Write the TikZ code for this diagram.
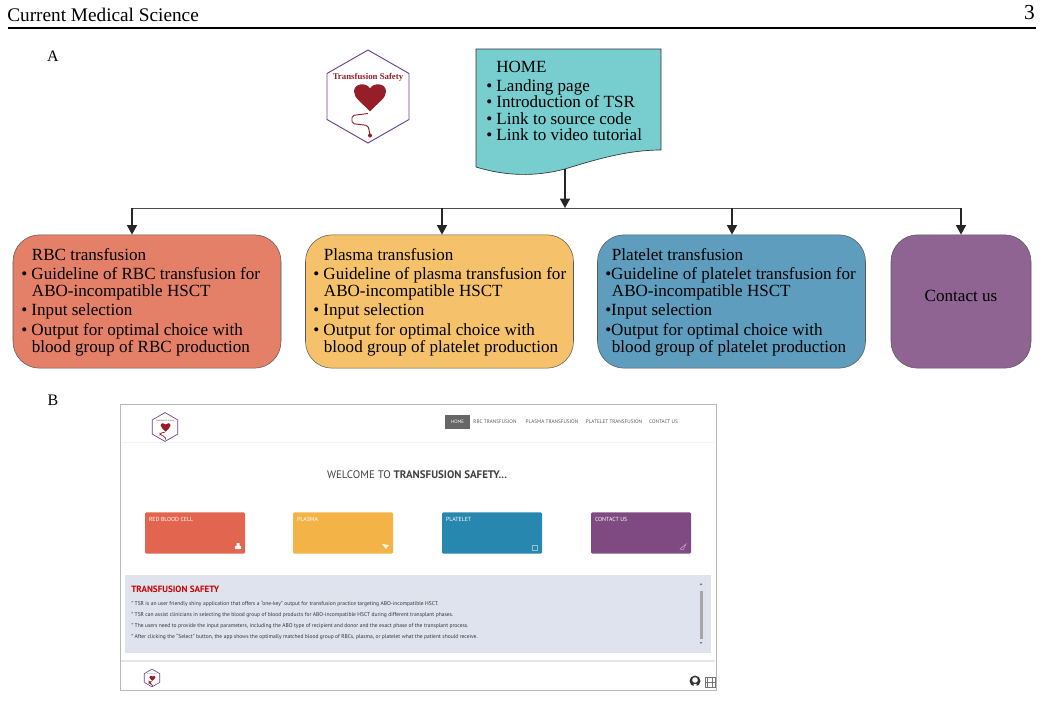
\documentclass[tikz,border=0pt]{standalone}
\usepackage{fontspec}
\setmainfont{Liberation Serif}
\setsansfont{PT Sans}
\usetikzlibrary{arrows.meta,positioning,calc}
\definecolor{tshome}{RGB}{120,205,207}
\definecolor{tsred}{RGB}{228,127,104}
\definecolor{tsorange}{RGB}{245,194,107}
\definecolor{tsblue}{RGB}{94,157,190}
\definecolor{tspurple}{RGB}{143,100,146}
\definecolor{cardred}{RGB}{225,101,79}
\definecolor{cardorange}{RGB}{243,179,71}
\definecolor{cardblue}{RGB}{40,135,174}
\definecolor{cardpurple}{RGB}{127,74,130}
\definecolor{hexpurple}{RGB}{107,63,143}
\definecolor{heartred}{RGB}{150,30,40}
\definecolor{panelblue}{RGB}{223,227,238}
\newcommand{\tslogo}[4]{%
  \begin{scope}[shift={(#1)},scale=#2]
    \draw[hexpurple,line width=#3] (0,-46.5) -- (41,-23) -- (41,23) -- (0,46.5) -- (-41,23) -- (-41,-23) -- cycle;
    \draw[heartred,line width=#3,rounded corners=1.5pt] (0,17) -- (-16,19) -- (-16,27) -- (0,29) -- (2,38);
    \fill[heartred] (2,15) .. controls (-6,6) and (-14,2) .. (-14,-5) .. controls (-14,-14) and (-1,-14) .. (2,-8)
      .. controls (5,-14) and (18,-14) .. (18,-5) .. controls (18,2) and (10,6) .. (2,15) -- cycle;
    \fill[heartred] (2,39) circle (2);
    \node[heartred,font=#4] (logotext) at (0,-19.5) {Transfusion Safety};
  \end{scope}}
\begin{document}
\begin{tikzpicture}[x=0.75pt,y=-0.75pt,
  flowbox/.style={draw=black!65,rounded corners=20pt,minimum height=100pt,line width=0.4pt},
  boxtext/.style={anchor=north west,align=left,inner sep=0pt,font=\fontsize{12.8}{12.4}\selectfont},
  arr/.style={-{Triangle[length=7pt,width=7.5pt]},line width=0.9pt,black!85},
  bus/.style={line width=0.7pt,black!70},
  card/.style={rounded corners=1pt,minimum width=75pt,minimum height=31pt},
  cardtext/.style={white,font=\sffamily\fontsize{4.4}{5}\selectfont,anchor=west,inner sep=0pt},
  navtext/.style={black!65,font=\sffamily\fontsize{3.9}{4}\selectfont,inner sep=0pt},
  infotext/.style={black!80,font=\sffamily\fontsize{4.15}{4}\selectfont,anchor=west,inner sep=0pt}
]
  \useasboundingbox (0,0) rectangle (1064,700);

  % Page header
  \node[anchor=west,inner sep=0pt,font=\fontsize{14.45}{16}\selectfont] (journal) at (7,15) {Current Medical Science};
  \node[anchor=east,inner sep=0pt,font=\fontsize{16}{16}\selectfont] (pageno) at (1035,13) {3};
  \draw[line width=1pt] (8,28) coordinate (ruleL) -- (1036,28) coordinate (ruleR);
  \node[font=\fontsize{12}{12}\selectfont] (labelA) at (53,56) {A};
  \node[font=\fontsize{12}{12}\selectfont] (labelB) at (53,400) {B};

  % Logo
  \tslogo{368,96.5}{1}{0.7pt}{\bfseries\fontsize{6.6}{7}\selectfont}

  % Home
  \draw[draw=black!80,fill=tshome,line width=0.5pt] (476,49) -- (661,49) -- (661,150)
    .. controls (630,150) and (600,158) .. (565,169) coordinate (homeout)
    .. controls (535,177) and (505,176) .. (476,167) -- cycle;
  \node[boxtext] (hometext) at (486,60.5) {\hspace{7.5pt}HOME\\[2pt]
    • Landing page\\• Introduction of TSR\\• Link to source code\\• Link to video tutorial};

  % Boxes
  \node[flowbox,fill=tsred,minimum width=201pt] (rbc) at (147,301.5) {};
  \node[boxtext] (rbctext) at (21,248) {\hspace{8pt}RBC transfusion\\[2pt]
    • Guideline of RBC transfusion for\\\hspace{8pt}ABO-incompatible HSCT\\[2.5pt]
    • Input selection\\[2.5pt]
    • Output for optimal choice with\\\hspace{8pt}blood group of RBC production};

  \node[flowbox,fill=tsorange,minimum width=201pt] (plasma) at (439.5,301.5) {};
  \node[boxtext] (plasmatext) at (313,248) {\hspace{8pt}Plasma transfusion\\[2pt]
    • Guideline of plasma transfusion for\\\hspace{8pt}ABO-incompatible HSCT\\[2.5pt]
    • Input selection\\[2.5pt]
    • Output for optimal choice with\\\hspace{8pt}blood group of platelet production};

  \node[flowbox,fill=tsblue,minimum width=201pt] (platelet) at (731.5,301.5) {};
  \node[boxtext] (platelettext) at (605,248) {\hspace{5pt}Platelet transfusion\\[2pt]
    •Guideline of platelet transfusion for\\\hspace{5pt}ABO-incompatible HSCT\\[2.5pt]
    •Input selection\\[2.5pt]
    •Output for optimal choice with\\\hspace{5pt}blood group of platelet production};

  \node[flowbox,fill=tspurple,minimum width=105pt] (contact) at (961,301.5) {};
  \node[inner sep=0pt,font=\fontsize{12.8}{12.4}\selectfont] (contacttext) at (961,296) {Contact us};

  % Arrows
  \coordinate (busA) at (132,208);
  \coordinate (busB) at (442,208);
  \coordinate (busC) at (565,208);
  \coordinate (busD) at (732,208);
  \coordinate (busE) at (961,208);
  \draw[bus] (busA) -- (busE);
  \draw[arr] (homeout) -- (busC);
  \draw[arr] (busA) -- (busA |- rbc.north);
  \draw[arr] (busB) -- (busB |- plasma.north);
  \draw[arr] (busD) -- (busD |- platelet.north);
  \draw[arr] (busE) -- (contact.north);

  % Screenshot
  \draw[black!28,line width=0.6pt] (120,404.5) rectangle (716,690);
  \tslogo{165,427}{0.31}{0.5pt}{\fontsize{1.8}{2}\selectfont}
  \draw[black!5] (122,442) -- (714,442);
  \node[fill=black!60,minimum width=18.5pt,minimum height=10pt,inner sep=0pt,text=white,font=\sffamily\fontsize{3.6}{4}\selectfont] (navhome) at (457.5,422) {HOME};
  \node[navtext] (navrbc) at (495,422) {RBC TRANSFUSION};
  \node[navtext] (navplasma) at (552,422) {PLASMA TRANSFUSION};
  \node[navtext] (navplatelet) at (614,422) {PLATELET TRANSFUSION};
  \node[navtext] (navcontact) at (663.5,422) {CONTACT US};
  \node[black!75,inner sep=0pt,font=\sffamily\fontsize{8.2}{9}\selectfont] (welcome) at (417,475) {WELCOME TO \textbf{TRANSFUSION SAFETY...}};

  \node[card,fill=cardred] (cardrbc) at (195,533) {};
  \node[cardtext] (cardrbctext) at ([xshift=3pt]cardrbc.west |- 0,519) {RED BLOOD CELL};
  \fill[white] (235,549) rectangle (241,546) (236.5,546) rectangle (239.5,543);
  \node[card,fill=cardorange] (cardplasma) at (343,533) {};
  \node[cardtext] (cardplasmatext) at ([xshift=3pt]cardplasma.west |- 0,519) {PLASMA};
  \fill[white!85!cardorange] (382,544) -- (389,545) -- (386,549) -- cycle;
  \node[card,fill=cardblue] (cardplatelet) at (492,533) {};
  \node[cardtext] (cardplatelettext) at ([xshift=3pt]cardplatelet.west |- 0,519) {PLATELET};
  \draw[white!50!cardblue,line width=0.3pt] (532,545) rectangle (537,550);
  \node[card,fill=cardpurple] (cardcontact) at (641,533) {};
  \node[cardtext] (cardcontacttext) at ([xshift=3pt]cardcontact.west |- 0,519) {CONTACT US};
  \draw[white!50!cardpurple,line width=0.4pt] (680,549) -- (686,544) -- (683,550) -- cycle;

  % Info panel
  \node[fill=panelblue,minimum width=439.5pt,minimum height=58.5pt,inner sep=0pt] (panel) at (418,614) {};
  \node[anchor=west,inner sep=0pt,red!80!black,font=\sffamily\bfseries\fontsize{6.8}{7}\selectfont] (paneltitle) at (131,589) {TRANSFUSION SAFETY};
  \node[infotext] (lineA) at (131,604) {* TSR is an user friendly shiny application that offers a ``one-key'' output for transfusion practice targeting ABO-incompatible HSCT.};
  \node[infotext] (lineB) at (131,615) {* TSR can assist clinicians in selecting the blood group of blood products for ABO-incompatible HSCT during different transplant phases.};
  \node[infotext] (lineC) at (131,626) {* The users need to provide the input parameters, including the ABO type of recipient and donor and the exact phase of the transplant process.};
  \node[infotext] (lineD) at (131,637) {* After clicking the ``Select'' button, the app shows the optimally matched blood group of RBCs, plasma, or platelet what the patient should receive.};
  \fill[black!35] (699.5,591) rectangle (702.5,639);
  \fill[black!50] (699.5,585) -- (702.5,585) -- (701,583) -- cycle;
  \fill[black!50] (699.5,642) -- (702.5,642) -- (701,644) -- cycle;

  % Footer
  \draw[black!10,line width=0.8pt] (121,661) -- (715,661);
  \tslogo{152,678}{0.19}{0.45pt}{\fontsize{1}{1}\selectfont}
  \fill[black!80] (695,681) circle (5.5);
  \fill[white] (695,680) circle (2.8) (693.5,684) rectangle (696.5,687);
  \draw[black!55,line width=0.5pt] (705,677) rectangle (715,687) (707.5,677) -- (707.5,687) (712.5,677) -- (712.5,687) (705,682) -- (715,682);
\end{tikzpicture}
\end{document}
